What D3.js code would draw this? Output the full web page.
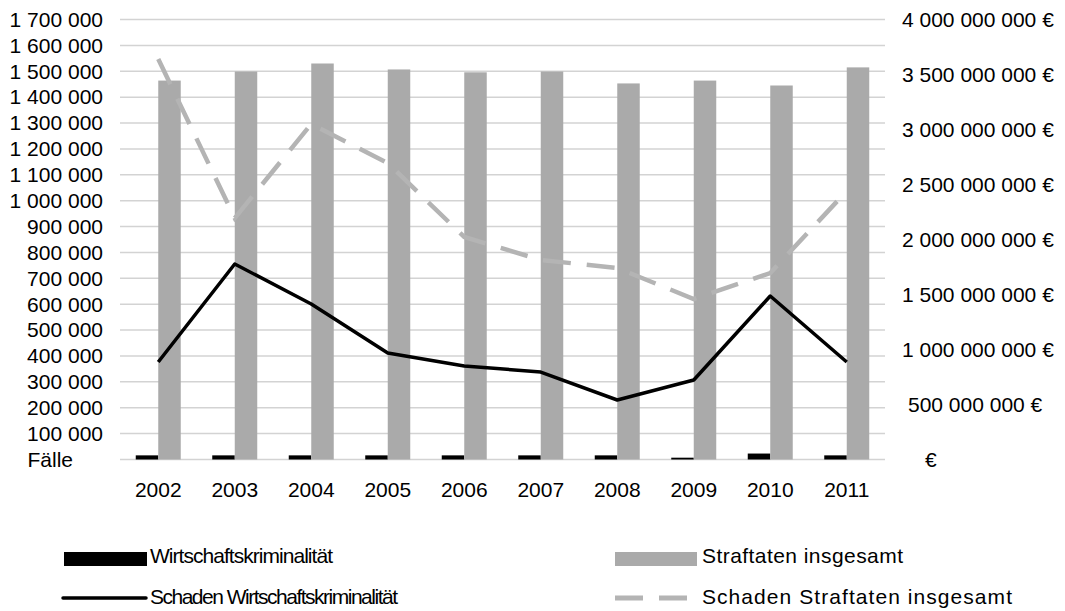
<!doctype html>
<meta charset=utf8>
<title>Wirtschaftskriminalität</title>
<style>
  body {
    margin: 0;
    background: white;
  }

  svg {
    display: block;
    font-family: "Liberation Sans", Arial, Helvetica, sans-serif;
  }

  .grid line {
    stroke: #d3d3d3;
    stroke-width: 1.5
  }

  text {
    fill: black;
    font-size: 21px
  }
</style>
<svg width=1065 height=611></svg>
<script src=https://d3js.org/d3.v7.min.js></script>
<script>
  var years = ['2002', '2003', '2004', '2005', '2006', '2007', '2008', '2009', '2010', '2011'];
  // Fälle (linke Achse)
  var wirtschaft = [16000, 16000, 16000, 16000, 16000, 16000, 16000, 7000, 23000, 16000];
  var straftaten = [1464000, 1499000, 1530000, 1507000, 1496000, 1499000, 1453000, 1464000, 1445000, 1515000];
  // Schaden in € (rechte Achse)
  var schadenWirtschaft = [886e6, 1777e6, 1414e6, 968e6, 850e6, 795e6, 541e6, 723e6, 1486e6, 886e6];
  var schadenStraftaten = [3640e6, 2195e6, 3050e6, 2695e6, 2023e6, 1814e6, 1741e6, 1459e6, 1695e6, 2441e6];
  var leftTicks = d3.range(0, 1700001, 100000);
  var rightTicks = d3.range(0, 4000000001, 500000000);

  var svg = d3.select('svg');
  var plotLeft = 120, plotRight = 885, plotTop = 19.5, plotBottom = 459.5;

  var x = d3.scaleBand().domain(years).range([plotLeft, plotRight]);
  var xs = d3.scaleBand().domain(['w', 's']).range([0, x.bandwidth()]).paddingOuter(0.7);
  var yL = d3.scaleLinear().domain([0, 1700000]).range([plotBottom, plotTop]);
  var yR = d3.scaleLinear().domain([0, 4000000000]).range([plotBottom, plotTop]);

  function spaced(v) {
    return d3.format(',')(v).replace(/,/g, ' ');
  }

  // gridlines
  svg.append('g')
    .attr('class', 'grid')
    .selectAll('line')
    .data(leftTicks)
    .enter()
    .append('line')
    .attr('x1', plotLeft)
    .attr('x2', plotRight)
    .attr('y1', yL)
    .attr('y2', yL);

  // left labels
  svg.append('g')
    .selectAll('text')
    .data(leftTicks)
    .enter()
    .append('text')
    .attr('x', function(d) { return d === 0 ? 73 : 103; })
    .attr('y', yL)
    .attr('dy', '0.35em')
    .attr('text-anchor', 'end')
    .text(function(d) { return d === 0 ? 'Fälle' : spaced(d); });

  // right labels
  svg.append('g')
    .selectAll('text')
    .data(rightTicks)
    .enter()
    .append('text')
    .attr('x', function(d) { return d === 0 ? 925 : d < 1e9 ? 908 : 902; })
    .attr('y', yR)
    .attr('dy', '0.35em')
    .text(function(d) { return d === 0 ? '€' : spaced(d) + ' €'; });

  // year labels
  svg.append('g')
    .selectAll('text')
    .data(years)
    .enter()
    .append('text')
    .attr('x', function(d) { return x(d) + x.bandwidth() / 2; })
    .attr('y', 497)
    .attr('text-anchor', 'middle')
    .text(function(d) { return d; });

  // bars
  var bars = svg.append('g');
  bars.selectAll('.w')
    .data(wirtschaft)
    .enter()
    .append('rect')
    .attr('x', function(d, i) { return x(years[i]) + xs('w'); })
    .attr('width', xs.bandwidth())
    .attr('y', yL)
    .attr('height', function(d) { return plotBottom - yL(d); })
    .attr('fill', '#000');
  bars.selectAll('.s')
    .data(straftaten)
    .enter()
    .append('rect')
    .attr('x', function(d, i) { return x(years[i]) + xs('s'); })
    .attr('width', xs.bandwidth())
    .attr('y', yL)
    .attr('height', function(d) { return plotBottom - yL(d); })
    .attr('fill', '#aaaaaa');

  // lines
  var line = d3.line()
    .x(function(d, i) { return x(years[i]) + x.bandwidth() / 2; })
    .y(function(d) { return yR(d); });

  svg.append('path')
    .attr('d', line(schadenStraftaten))
    .attr('fill', 'none')
    .attr('stroke', '#b4b4b4')
    .attr('stroke-width', 4.5)
    .attr('stroke-dasharray', '28,16');

  svg.append('path')
    .attr('d', line(schadenWirtschaft))
    .attr('fill', 'none')
    .attr('stroke', '#000')
    .attr('stroke-width', 3.5)
    .attr('stroke-linejoin', 'round');

  // legend
  var lg = svg.append('g').attr('class', 'legend');
  lg.append('rect').attr('x', 64).attr('y', 552).attr('width', 83).attr('height', 14).attr('fill', '#000');
  lg.append('text').attr('x', 150).attr('y', 563).attr('textLength', 183).text('Wirtschaftskriminalität');
  lg.append('rect').attr('x', 615).attr('y', 552).attr('width', 82).attr('height', 14).attr('fill', '#aaaaaa');
  lg.append('text').attr('x', 702).attr('y', 563).attr('textLength', 201).text('Straftaten insgesamt');
  lg.append('line').attr('x1', 63).attr('x2', 146).attr('y1', 598).attr('y2', 598)
    .attr('stroke', '#000').attr('stroke-width', 3.5).attr('stroke-linecap', 'round');
  lg.append('text').attr('x', 150).attr('y', 604).attr('textLength', 248).text('Schaden Wirtschaftskriminalität');
  lg.append('line').attr('x1', 615).attr('x2', 688).attr('y1', 598).attr('y2', 598)
    .attr('stroke', '#b4b4b4').attr('stroke-width', 5).attr('stroke-dasharray', '28,16');
  lg.append('text').attr('x', 702).attr('y', 604).attr('textLength', 310).text('Schaden Straftaten insgesamt');
</script>
